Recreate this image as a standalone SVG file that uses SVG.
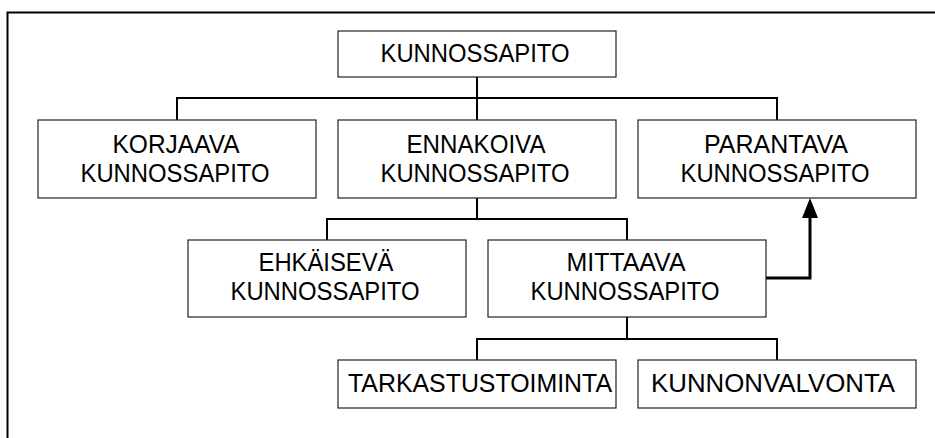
<svg xmlns="http://www.w3.org/2000/svg" width="935" height="438" viewBox="0 0 935 438">
<style>
.box{fill:#fff;stroke:#222;stroke-width:1.2}
.t{font-family:"Liberation Sans",Arial,sans-serif;font-size:26px;fill:#000;text-anchor:middle}
.c{fill:none;stroke:#000;stroke-width:2}
.frame{fill:none;stroke:#000;stroke-width:2}
</style>
<path class="frame" d="M7.5,438 V12.5 H935"/>
<g id="connectors">
<path class="c" d="M477,77 V98 M177,120 V98 H777 V120 M477,98 V120"/>
<path class="c" d="M477,198 V219 M327,240 V219 H627 V240"/>
<path class="c" d="M627,317 V339 M477,360 V339 H777 V360"/>
<path d="M766,278 H810 V216" fill="none" stroke="#000" stroke-width="3"/>
<path d="M802,218 L810,198 L818,218 Z" fill="#000"/>
</g>
<g id="n-kunnossapito">
<rect class="box" x="338" y="31" width="278" height="46"/>
<text class="t" x="475" y="62" textLength="189" lengthAdjust="spacingAndGlyphs">KUNNOSSAPITO</text>
</g>
<g id="n-korjaava">
<rect class="box" x="38" y="120" width="278" height="78"/>
<text class="t" x="176" y="153" textLength="127" lengthAdjust="spacingAndGlyphs">KORJAAVA</text>
<text class="t" x="175" y="182" textLength="189" lengthAdjust="spacingAndGlyphs">KUNNOSSAPITO</text>
</g>
<g id="n-ennakoiva">
<rect class="box" x="338" y="120" width="278" height="78"/>
<text class="t" x="476" y="153" textLength="139" lengthAdjust="spacingAndGlyphs">ENNAKOIVA</text>
<text class="t" x="475" y="182" textLength="189" lengthAdjust="spacingAndGlyphs">KUNNOSSAPITO</text>
</g>
<g id="n-parantava">
<rect class="box" x="638" y="120" width="278" height="78"/>
<text class="t" x="776" y="153" textLength="144" lengthAdjust="spacingAndGlyphs">PARANTAVA</text>
<text class="t" x="775" y="182" textLength="189" lengthAdjust="spacingAndGlyphs">KUNNOSSAPITO</text>
</g>
<g id="n-ehkaiseva">
<rect class="box" x="188" y="240" width="278" height="77"/>
<text class="t" x="326" y="271" textLength="135" lengthAdjust="spacingAndGlyphs">EHKÄISEVÄ</text>
<text class="t" x="325" y="300" textLength="189" lengthAdjust="spacingAndGlyphs">KUNNOSSAPITO</text>
</g>
<g id="n-mittaava">
<rect class="box" x="488" y="240" width="278" height="77"/>
<text class="t" x="626" y="271" textLength="119" lengthAdjust="spacingAndGlyphs">MITTAAVA</text>
<text class="t" x="625" y="300" textLength="189" lengthAdjust="spacingAndGlyphs">KUNNOSSAPITO</text>
</g>
<g id="n-tarkastustoiminta">
<rect class="box" x="338" y="360" width="278" height="48"/>
<text class="t" x="480" y="392" textLength="264" lengthAdjust="spacingAndGlyphs">TARKASTUSTOIMINTA</text>
</g>
<g id="n-kunnonvalvonta">
<rect class="box" x="638" y="360" width="278" height="48"/>
<text class="t" x="773" y="392" textLength="244" lengthAdjust="spacingAndGlyphs">KUNNONVALVONTA</text>
</g>
</svg>
